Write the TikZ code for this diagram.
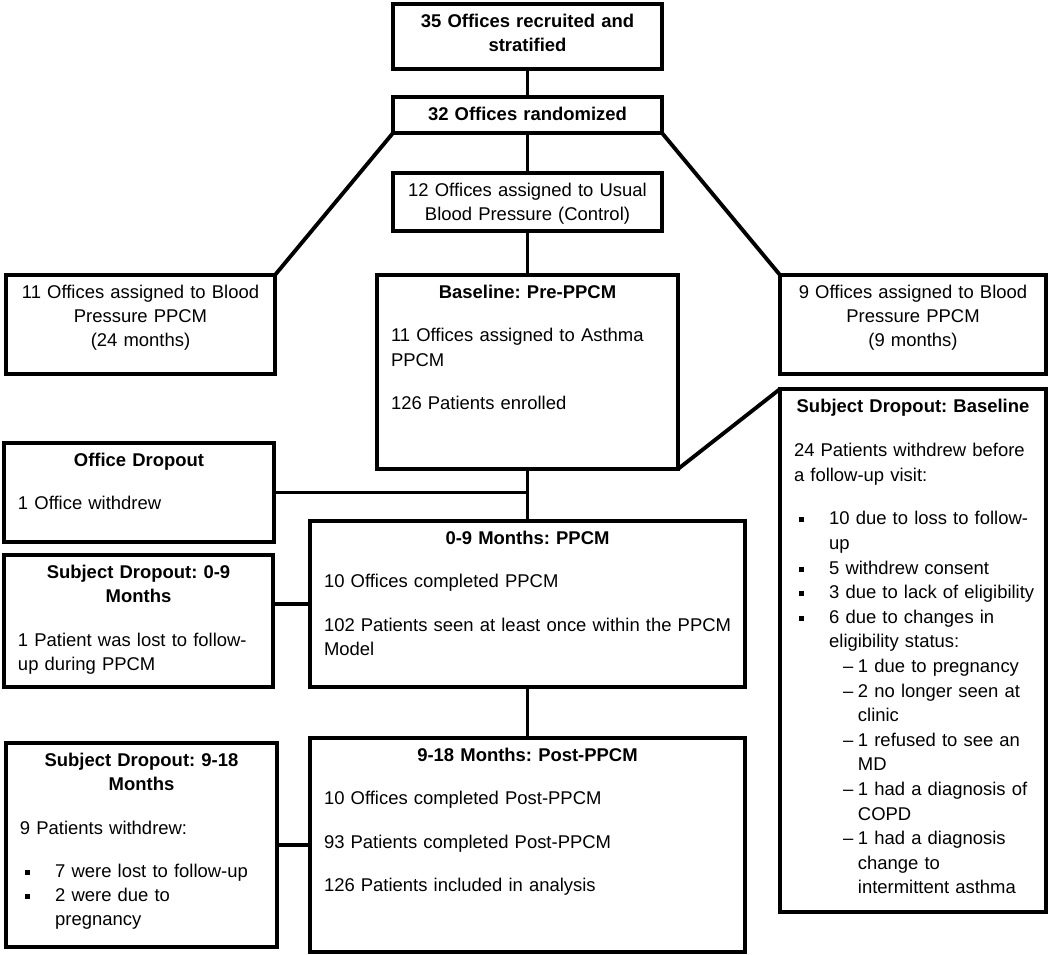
\documentclass[tikz,border=0pt]{standalone}
\usepackage{fontspec}
\setmainfont{Liberation Sans}
\usepackage{tikz}

\frenchspacing
\hyphenpenalty=10000
\newcommand{\boxtitle}[1]{{\centering\bfseries #1\par}\vspace{11pt}}
\newcommand{\sqitem}[1]{\hspace*{3pt}\makebox[17pt][l]{\rule[1.5pt]{2.8pt}{2.8pt}}\mbox{#1}}
\newcommand{\dashitem}[1]{\hspace*{27.9pt}\makebox[8.5pt][l]{--}\mbox{#1}}

\begin{document}
\begin{tikzpicture}[x=0.02cm, y=-0.02cm, line width=2.2pt,
        boxw/.style={text width=#1*0.02cm-0.56cm},
        boxh/.style={text depth=#1*0.02cm-18.4pt}]
        \tikzstyle{every node}=[draw, anchor=north west, outer sep=0pt, inner xsep=0.28cm, inner ysep=5pt, text height=8.4pt, font=\fontsize{10.5}{13.7}\selectfont]
        \tikzstyle{midbox}=[align=center]
        \tikzstyle{listbox}=[align=left]
        \useasboundingbox (0,0) rectangle (1050,955);

        \node[midbox, boxw=269, boxh=65] (recruit) at (393,4) {\bfseries 35 Offices recruited and\\stratified};
        \node[midbox, boxw=269, boxh=36] (random) at (393,97) {\bfseries 32 Offices randomized};
        \node[midbox, boxw=269, boxh=58] (usual) at (393,173) {12 Offices assigned to Usual\\Blood Pressure (Control)};
        \node[midbox, boxw=269, boxh=99] (bp24) at (6,275) {11 Offices assigned to Blood\\Pressure PPCM\\(24 months)};
        \node[midbox, boxw=266, boxh=99] (bp9) at (780,275) {9 Offices assigned to Blood\\Pressure PPCM\\(9 months)};

        \node[listbox, boxw=301, boxh=194] (baseline) at (377,275) {\boxtitle{Baseline: Pre-PPCM}
            11 Offices assigned to Asthma\\PPCM\\[11pt]
            126 Patients enrolled};
        \node[listbox, boxw=266, boxh=523, font=\fontsize{10.5}{14}\selectfont] (subbase) at (780,389) {\boxtitle{Subject Dropout: Baseline}
            24 Patients withdrew before\\a follow-up visit:\\[11pt]
            \sqitem{10 due to loss to follow-}\\
            \hspace*{20pt}up\\
            \sqitem{5 withdrew consent}\\
            \sqitem{3 due to lack of eligibility}\\
            \sqitem{6 due to changes in}\\
            \hspace*{20pt}eligibility status:\\
            \dashitem{1 due to pregnancy}\\
            \dashitem{2 no longer seen at}\\
            \hspace*{36.4pt}clinic\\
            \dashitem{1 refused to see an}\\
            \hspace*{36.4pt}MD\\
            \dashitem{1 had a diagnosis of}\\
            \hspace*{36.4pt}COPD\\
            \dashitem{1 had a diagnosis}\\
            \hspace*{36.4pt}change to\\
            \hspace*{36.4pt}intermittent asthma};
        \node[listbox, boxw=270, boxh=99] (offdrop) at (4,443) {\boxtitle{Office Dropout}
            1 Office withdrew};
        \node[listbox, boxw=269, boxh=132] (sub09) at (4,555) {\boxtitle{Subject Dropout: 0-9\\Months}
            1 Patient was lost to follow-\\up during PPCM};
        \node[listbox, boxw=435, boxh=166] (ppcm) at (310,521) {\boxtitle{0-9 Months: PPCM}
            10 Offices completed PPCM\\[11pt]
            \mbox{102 Patients seen at least once within the PPCM}\\Model};
        \node[listbox, boxw=435, boxh=214] (post) at (310,738) {\boxtitle{9-18 Months: Post-PPCM}
            10 Offices completed Post-PPCM\\[11pt]
            93 Patients completed Post-PPCM\\[11pt]
            126 Patients included in analysis};
        \node[listbox, boxw=271, boxh=204] (sub918) at (6,743) {\boxtitle{Subject Dropout: 9-18\\Months}
            9 Patients withdrew:\\[11pt]
            \sqitem{7 were lost to follow-up}\\
            \sqitem{2 were due to}\\
            \hspace*{20pt}pregnancy};

        \draw (recruit.south) -- (random.north);
        \draw (random.south) -- (usual.north);
        \draw (usual.south) -- (baseline.north);
        \draw (random.south west) -- (bp24.north east);
        \draw (random.south east) -- (bp9.north west);
        \draw (baseline.south east) -- (subbase.north west);
        \draw (baseline.south) -- (ppcm.north);
        \draw (offdrop.east) -- (offdrop.east -| baseline.south);
        \draw (ppcm.west) -- (ppcm.west -| sub09.east);
        \draw (ppcm.south) -- (post.north);
        \draw (post.west) -- (post.west -| sub918.east);
\end{tikzpicture}
\end{document}
